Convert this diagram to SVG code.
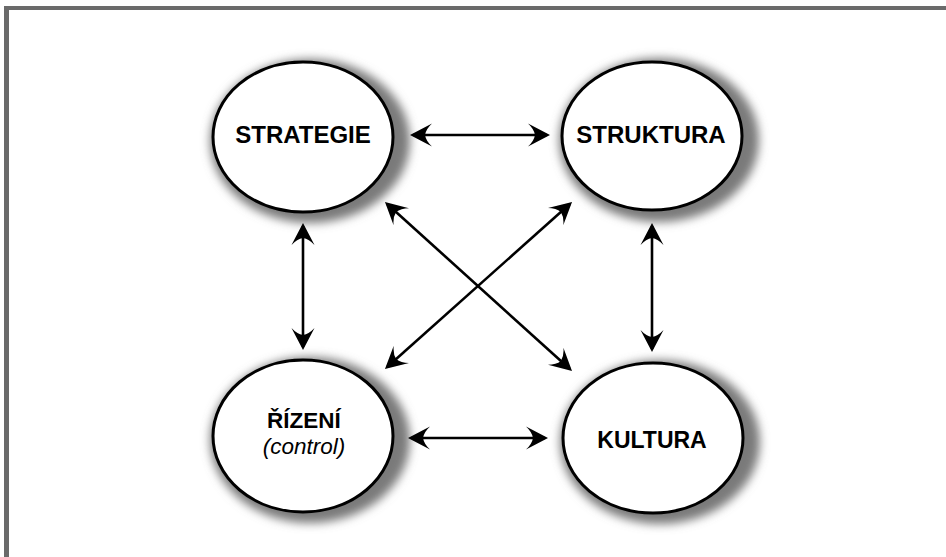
<svg xmlns="http://www.w3.org/2000/svg" width="946" height="557" viewBox="0 0 946 557">
<style>
.frame{stroke:#6a6a6a;fill:none}
.node{fill:#fff;stroke:#000;stroke-width:3}
.shadow{fill:#7a7a7a;filter:url(#blur)}
.lbl{font-family:"Liberation Sans",Arial,sans-serif;font-weight:bold;text-anchor:middle;fill:#000}
.sub{font-family:"Liberation Sans",Arial,sans-serif;font-style:italic;text-anchor:middle;fill:#000}
.conn line{stroke:#000;stroke-width:2.6;marker-start:url(#ah);marker-end:url(#ah)}
</style>
<defs>
<filter id="blur" x="-20%" y="-20%" width="140%" height="140%"><feGaussianBlur stdDeviation="5"/></filter>
<marker id="ah" viewBox="0 0 22 24" refX="19" refY="12" markerWidth="22" markerHeight="24" markerUnits="userSpaceOnUse" orient="auto-start-reverse">
<path d="M22,12 L0,0.5 Q6,6 7,12 Q6,18 0,23.5 Z" fill="#000"/>
</marker>
</defs>
<rect width="946" height="557" fill="#fff"/>
<g id="frame">
<line class="frame" x1="4" y1="8" x2="946" y2="8" stroke-width="4"/>
<line class="frame" x1="6.5" y1="6" x2="6.5" y2="557" stroke-width="5"/>
</g>
<g id="strategie">
<ellipse class="shadow" cx="310" cy="141" rx="100" ry="82"/>
<ellipse class="node" cx="303" cy="137" rx="90" ry="75"/>
<text class="lbl" x="303" y="143" font-size="24">STRATEGIE</text>
</g>
<g id="struktura">
<ellipse class="shadow" cx="659" cy="140" rx="100" ry="82"/>
<ellipse class="node" cx="652" cy="136" rx="90" ry="74"/>
<text class="lbl" x="651" y="143" font-size="24">STRUKTURA</text>
</g>
<g id="rizeni">
<ellipse class="shadow" cx="310" cy="440" rx="100" ry="83"/>
<ellipse class="node" cx="303" cy="436" rx="90" ry="76"/>
<text class="lbl" x="304" y="428" font-size="22.5">ŘÍZENÍ</text>
<text class="sub" x="304" y="454" font-size="22.5">(control)</text>
</g>
<g id="kultura">
<ellipse class="shadow" cx="660" cy="442" rx="100" ry="82"/>
<ellipse class="node" cx="653" cy="438" rx="90" ry="75"/>
<text class="lbl" x="652" y="448" font-size="23">KULTURA</text>
</g>
<g id="connectors" class="conn">
<line x1="413" y1="135" x2="547" y2="135"/>
<line x1="303" y1="226" x2="303" y2="347"/>
<line x1="652" y1="226" x2="652" y2="349"/>
<line x1="411" y1="438" x2="545" y2="438"/>
<line x1="387.2" y1="204" x2="569.8" y2="369"/>
<line x1="569.8" y1="204" x2="387.2" y2="367"/>
</g>
</svg>
